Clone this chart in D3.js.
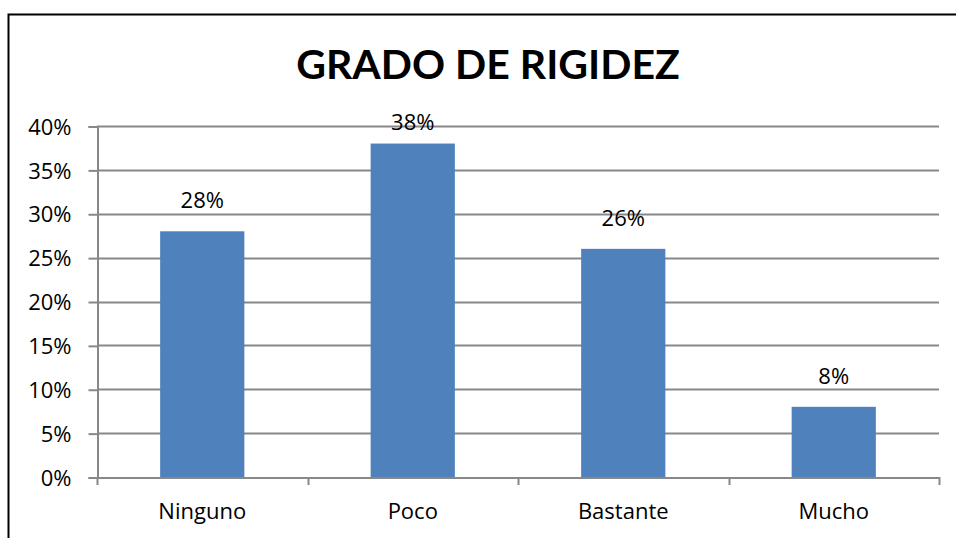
<!DOCTYPE html>
<html lang="es">
  <head>
    <meta charset="UTF-8">
    <title>Grado de rigidez</title>
    <style>
      body { margin: 0; background: #fff; }
      svg text { font-family: "Open Sans", Lato, sans-serif; fill: #000; }
    </style>
  </head>
  <body>
    <svg id="chart" width="956" height="538"></svg>

    <script src="https://d3js.org/d3.v7.min.js"></script>
    <script>
      // datos del gráfico
      var categorias = ["Ninguno", "Poco", "Bastante", "Mucho"];
      var valores = [0.28, 0.38, 0.26, 0.08];
      var ticksY = [0, 0.05, 0.10, 0.15, 0.20, 0.25, 0.30, 0.35, 0.40];
      var titulo = "GRADO DE RIGIDEZ";

      var svg = d3.select("#chart");
      var izq = 97, der = 939, arriba = 126, abajo = 477;
      var tamLetra = "22px";

      // marco del gráfico
      svg.append("path")
        .attr("d", "M8.5,540 V14.5 H960")
        .attr("fill", "none")
        .attr("stroke", "#000")
        .attr("stroke-width", 2);

      svg.append("text")
        .attr("x", 488)
        .attr("y", 79)
        .attr("text-anchor", "middle")
        .style("font-family", "Lato, 'Open Sans', sans-serif")
        .style("font-weight", "bold")
        .style("font-size", "41px")
        .text(titulo);

      var x = d3.scaleBand().domain(categorias).range([izq, der]).paddingInner(0.6).paddingOuter(0.3);
      var xBanda = d3.scaleBand().domain(categorias).range([izq, der]);
      var y = d3.scaleLinear().domain([0, 0.40]).range([abajo, arriba]);

      // líneas de cuadrícula
      svg.append("g")
        .selectAll("line")
        .data(ticksY.slice(1))
        .join("line")
        .attr("x1", izq).attr("x2", der)
        .attr("y1", d => Math.round(y(d)) + 0.5)
        .attr("y2", d => Math.round(y(d)) + 0.5)
        .attr("stroke", "#888")
        .attr("stroke-width", 2);

      // eje Y
      var ejeY = svg.append("g")
        .attr("transform", "translate(" + (izq + 0.5) + ",0.5)")
        .call(d3.axisLeft(y).tickValues(ticksY).tickFormat(d3.format(".0%")).tickSize(9).tickPadding(17));
      ejeY.select(".domain").attr("stroke", "#888").attr("stroke-width", 2);
      ejeY.selectAll(".tick line").attr("stroke", "#888").attr("stroke-width", 2);
      ejeY.selectAll("text").style("font-size", tamLetra).attr("dy", "0.35em");

      // barras
      svg.append("g")
        .selectAll("rect")
        .data(valores)
        .join("rect")
        .attr("x", (d, i) => x(categorias[i]))
        .attr("width", x.bandwidth())
        .attr("y", d => y(d))
        .attr("height", d => y(0) - y(d))
        .attr("fill", "#4F81BD");

      // eje X
      var ejeX = svg.append("g")
        .attr("transform", "translate(0," + (abajo + 0.5) + ")")
        .call(d3.axisBottom(xBanda).tickSize(0).tickPadding(26));
      ejeX.select(".domain").attr("stroke", "#888").attr("stroke-width", 2);
      ejeX.selectAll("text").style("font-size", tamLetra);

      // marcas entre categorías
      svg.append("g")
        .selectAll("line")
        .data(d3.range(categorias.length + 1))
        .join("line")
        .attr("x1", i => Math.round(izq + i * xBanda.step()) + 0.5)
        .attr("x2", i => Math.round(izq + i * xBanda.step()) + 0.5)
        .attr("y1", abajo)
        .attr("y2", abajo + 8)
        .attr("stroke", "#888")
        .attr("stroke-width", 2);

      // etiquetas de datos (sin salir del área del gráfico)
      svg.append("g")
        .selectAll("text")
        .data(valores)
        .join("text")
        .attr("x", (d, i) => x(categorias[i]) + x.bandwidth() / 2)
        .attr("y", d => Math.max(arriba + 4, y(d) - 23))
        .attr("text-anchor", "middle")
        .style("font-size", tamLetra)
        .text(d3.format(".0%"));
    </script>
  </body>
</html>
